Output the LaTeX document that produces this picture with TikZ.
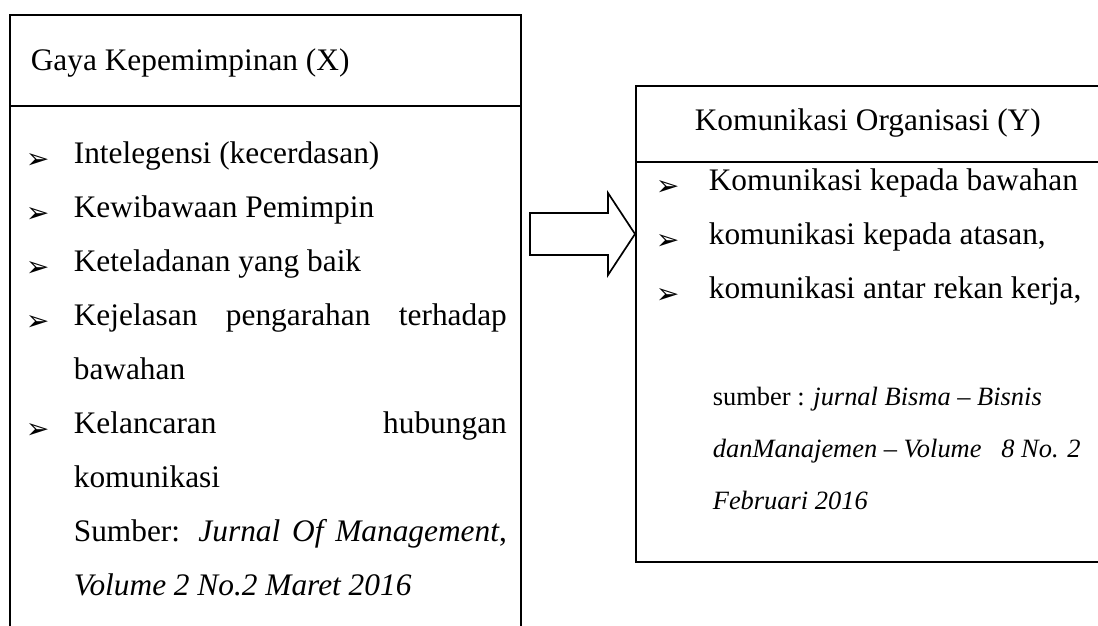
\documentclass[tikz,border=0pt]{standalone}
\usepackage{fontspec}
\setmainfont{Liberation Serif}
\newfontfamily\dingfont{DejaVu Sans}
\usetikzlibrary{positioning}

\begin{document}
\begin{tikzpicture}[x=0.25mm, y=-0.25mm, line width=1.2pt,
  txt/.style = {anchor=west, inner sep=0pt, text height=0.7em, text depth=0.25em, font=\fontsize{22.3}{26}\selectfont},
  srctxt/.style = {txt, font=\fontsize{18.8}{22}\selectfont},
  bul/.style = {anchor=west, inner sep=0pt, font=\fontsize{20}{22}\dingfont}]
	\useasboundingbox (0,0) rectangle (1098,626);
	\clip (0,0) rectangle (1098,626);
	
	% left box (X)
	\coordinate (xtl) at (10,15);
	\coordinate (xtr) at (521,15);
	\draw (10,640) -- (xtl) -- (xtr) -- (521,640);
	\draw (10,106) -- (521,106);
	\node[txt] (tx) at (30,67) {Gaya Kepemimpinan (X)};
	
	\node[bul] (b1) at (25,161) {➢};
	\node[txt] (x1) at (73,160) {Intelegensi (kecerdasan)};
	\node[bul] (b2) at (25,215) {➢};
	\node[txt] (x2) at (73,214) {Kewibawaan Pemimpin};
	\node[bul] (b3) at (25,269) {➢};
	\node[txt] (x3) at (73,268) {Keteladanan yang baik};
	\node[bul] (b4) at (25,323) {➢};
	\node[txt] (x4) at (73,322) {\makebox[308pt][s]{Kejelasan pengarahan terhadap}};
	\node[txt] (x4b) at (73,376) {bawahan};
	\node[bul] (b5) at (25,431) {➢};
	\node[txt] (x5) at (73,430) {\makebox[308pt]{Kelancaran\hfill hubungan}};
	\node[txt] (x5b) at (73,484) {komunikasi};
	\node[txt] (sx1) at (73,538) {\makebox[308pt][s]{Sumber: \textit{Jurnal Of Management},}};
	\node[txt] (sx2) at (73,592) {\textit{Volume 2 No.2 Maret 2016}};
	
	% right box (Y)
	\coordinate (ytl) at (636,86);
	\coordinate (ybl) at (636,562);
	\draw (1110,86) -- (ytl) -- (ybl) -- (1110,562);
	\draw (636,162) -- (1110,162);
	\node[txt] (ty) at (694,127) {Komunikasi Organisasi (Y)};
	
	\node[bul] (c1) at (655,188) {➢};
	\node[txt] (y1) at (708,187) {Komunikasi kepada bawahan};
	\node[bul] (c2) at (655,242) {➢};
	\node[txt] (y2) at (708,241) {komunikasi kepada atasan,};
	\node[bul] (c3) at (655,296) {➢};
	\node[txt] (y3) at (708,295) {komunikasi antar rekan kerja,};
	
	\node[srctxt] (sy1) at (712,402) {sumber : \textit{jurnal Bisma -- Bisnis}};
	\node[srctxt] (sy2) at (712,454) {\textit{danManajemen -- Volume\ \ \ 8 No. 2}};
	\node[srctxt] (sy3) at (712,506) {\textit{Februari 2016}};
	
	% block arrow X -> Y
	\draw (530,213) -- (608,213) -- (608,193) -- (635,234) -- (608,275) -- (608,255) -- (530,255) -- cycle;
\end{tikzpicture}
\end{document}
